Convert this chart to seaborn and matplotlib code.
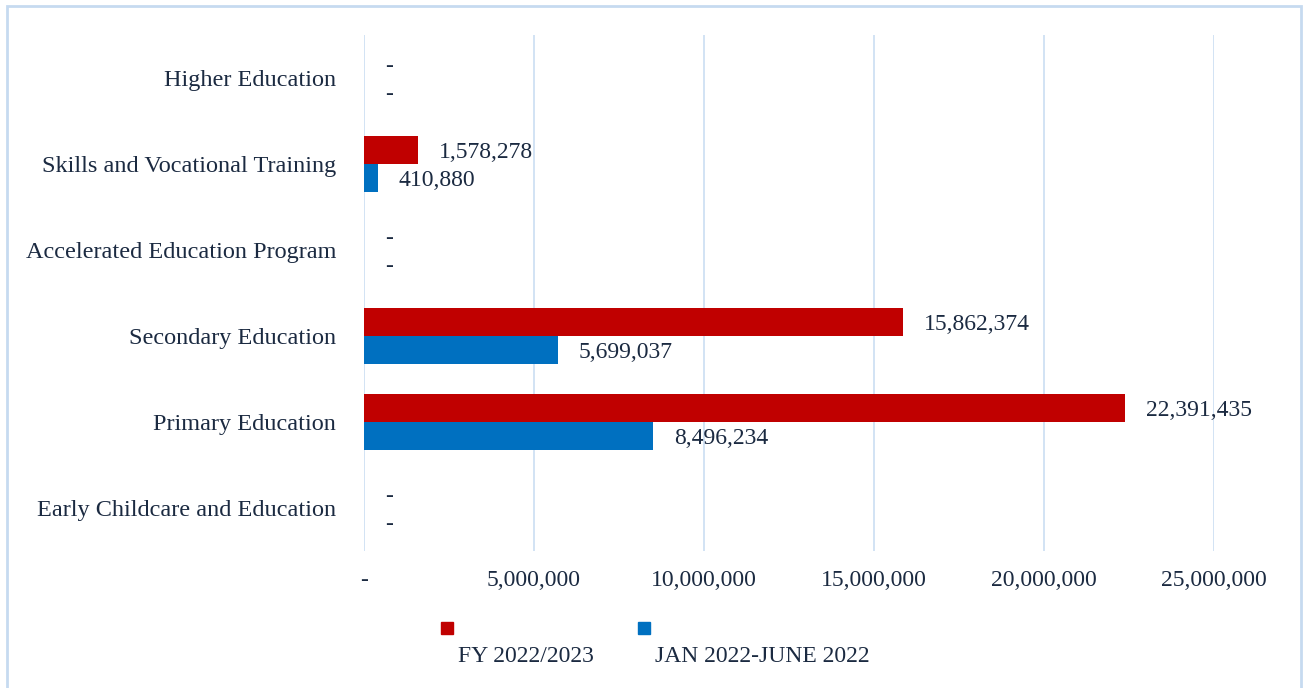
import matplotlib
matplotlib.use("Agg")
import matplotlib.pyplot as plt
import matplotlib.patches as patches
import matplotlib.ticker as mticker
import pandas as pd
import seaborn as sns

# chart values, top to bottom as shown
categories = ["Higher Education", "Skills and Vocational Training",
              "Accelerated Education Program", "Secondary Education",
              "Primary Education", "Early Childcare and Education"]
fy_2022_2023 = [0, 1578278, 0, 15862374, 22391435, 0]
jan_jun_2022 = [0, 410880, 0, 5699037, 8496234, 0]
series_names = ["FY 2022/2023", "JAN 2022-JUNE 2022"]
x_ticks = [0, 5000000, 10000000, 15000000, 20000000, 25000000]

red = "#C00000"
blue = "#0070C0"
txt = "#1b2a41"
grid_col = "#cfe0f3"

df = pd.DataFrame({
    "category": categories * 2,
    "value": fy_2022_2023 + jan_jun_2022,
    "series": [series_names[0]] * len(categories) + [series_names[1]] * len(categories),
})

sns.set_style("white")
plt.rcParams["font.family"] = ["Liberation Serif", "DejaVu Serif"]

fig = plt.figure(figsize=(13.06, 6.88), dpi=100)
ax = fig.add_axes([364 / 1306, 1 - 551 / 688, 850 / 1306, 516 / 688])

sns.barplot(data=df, y="category", x="value", hue="series", order=categories,
            hue_order=series_names, palette=[red, blue], orient="h",
            width=0.66, saturation=1, legend=False, linewidth=0, ax=ax)

ax.set_xlim(0, 25000000)
ax.set_xticks(x_ticks)
ax.xaxis.set_major_formatter(mticker.FuncFormatter(
    lambda v, p: "-" if v == 0 else f"{int(v):,}"))
ax.grid(axis="x", color=grid_col, linewidth=1.3)
ax.set_axisbelow(True)
for s in ax.spines.values():
    s.set_visible(False)
ax.tick_params(axis="x", length=0, labelsize=17, colors=txt, pad=14)
ax.tick_params(axis="y", length=0, labelsize=17.5, colors=txt, pad=20)
ax.set_xlabel("")
ax.set_ylabel("")

# data labels (Excel puts them slightly below bar centre)
for cont in ax.containers:
    labels = ["-" if v == 0 else f"{int(v):,}" for v in cont.datavalues]
    texts = ax.bar_label(cont, labels=labels, padding=15, fontsize=17, color=txt)
    for t in texts:
        t.xyann = (t.xyann[0], t.xyann[1] - 2)

# legend: squares above text, like the original
fig.add_artist(patches.Rectangle((441 / 1306, 1 - 634 / 688), 12 / 1306, 12 / 688,
                                 transform=fig.transFigure, color=red))
fig.add_artist(patches.Rectangle((638 / 1306, 1 - 634 / 688), 12 / 1306, 12 / 688,
                                 transform=fig.transFigure, color=blue))
fig.text(458 / 1306, 1 - 657 / 688, series_names[0], fontsize=17, color=txt, va="center")
fig.text(655 / 1306, 1 - 657 / 688, series_names[1], fontsize=17, color=txt, va="center")

# outer border
fig.add_artist(patches.Rectangle((7 / 1306, -0.01), 1294 / 1306, 1 - 6 / 688 + 0.01,
                                 transform=fig.transFigure, fill=False,
                                 edgecolor="#c6daf0", linewidth=2))

fig.savefig("out.png", dpi=100)
